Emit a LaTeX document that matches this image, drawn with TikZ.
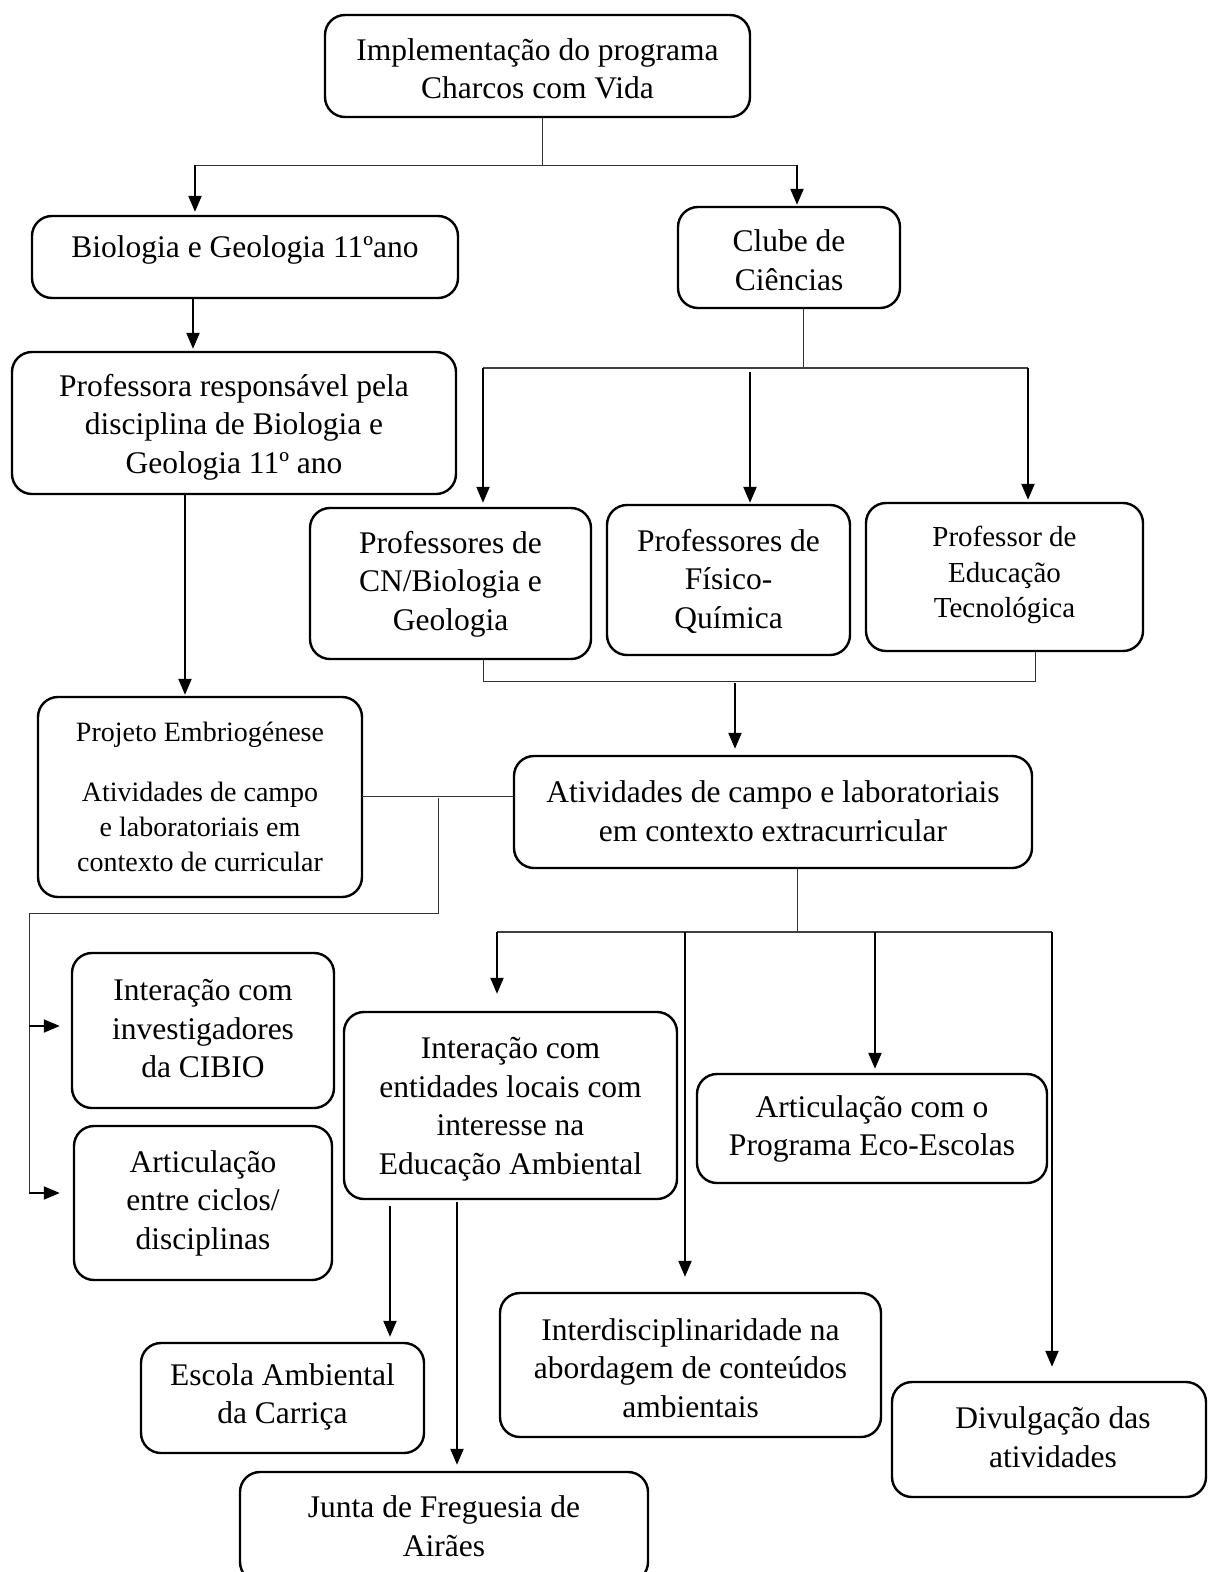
\documentclass[tikz,border=0pt]{standalone}
\usepackage{fontspec}
\setmainfont{Liberation Serif}
\usetikzlibrary{arrows.meta}
\begin{document}
\begin{tikzpicture}[x=1pt,y=-1pt,
  box/.style={draw, line width=2.4pt, rounded corners=20pt, inner sep=0pt},
  txt/.style={align=center, inner sep=0pt, font=\fontsize{31.5}{38.5}\selectfont},
  stxt/.style={align=center, inner sep=0pt, font=\fontsize{29}{35.5}\selectfont},
  sstxt/.style={align=center, inner sep=0pt, font=\fontsize{28}{35}\selectfont},
  arr/.style={-{Triangle[length=16pt,width=13pt]}, line width=2.2pt},
  thinl/.style={line width=1pt, draw=black!80},
  midl/.style={line width=1.6pt, draw=black!75}]
\useasboundingbox (0,0) rectangle (1208,1572);
\clip (0,0) rectangle (1208,1572);
\fill[white] (0,0) rectangle (1208,1572);

% boxes
\node[box, minimum width=425pt, minimum height=102pt] (top) at (537.5,66) {};
\node[txt] at (537.5,69) {Implementação do programa\\Charcos com Vida};
\node[box, minimum width=426pt, minimum height=82pt] (bio) at (245,257) {};
\node[txt] at (245,250) {Biologia e Geologia 11ºano};
\node[box, minimum width=222pt, minimum height=101pt] (clube) at (789,257.5) {};
\node[txt] at (789,260) {Clube de\\Ciências};
\node[box, minimum width=444pt, minimum height=142pt] (prof) at (234,423) {};
\node[txt] at (234,427) {Professora responsável pela\\disciplina de Biologia e\\Geologia 11º ano};
\node[box, minimum width=281pt, minimum height=151pt] (cn) at (450.5,583.5) {};
\node[txt] at (450.5,584) {Professores de\\CN/Biologia e\\Geologia};
\node[box, minimum width=243pt, minimum height=150pt] (fq) at (728.5,580) {};
\node[txt] at (728.5,581) {Professores de\\Físico-\\Química};
\node[box, minimum width=277pt, minimum height=148pt] (et) at (1004.5,577) {};
\node[stxt] at (1004.5,575) {Professor de\\Educação\\Tecnológica};
\node[box, minimum width=324pt, minimum height=200pt] (proj) at (200,797) {};
\node[sstxt] at (200,735) {Projeto Embriogénese};
\node[sstxt] at (200,827) {Atividades de campo\\e laboratoriais em\\contexto de curricular};
\node[box, minimum width=518pt, minimum height=112pt] (ativ) at (773,812) {};
\node[txt] at (773,811) {Atividades de campo e laboratoriais\\em contexto extracurricular};
\node[box, minimum width=262pt, minimum height=155pt] (cibio) at (203,1030.5) {};
\node[txt] at (203,1029) {Interação com\\investigadores\\da CIBIO};
\node[box, minimum width=258pt, minimum height=154pt] (artic) at (203,1203) {};
\node[txt] at (203,1203) {Articulação\\entre ciclos/\\disciplinas};
\node[box, minimum width=333pt, minimum height=187pt] (ent) at (510.5,1105.5) {};
\node[txt] at (510.5,1109) {Interação com\\entidades locais com\\interesse na\\Educação Ambiental};
\node[box, minimum width=350pt, minimum height=109pt] (eco) at (872,1128.5) {};
\node[txt] at (872,1129) {Articulação com o\\Programa Eco-Escolas};
\node[box, minimum width=283pt, minimum height=110pt] (escola) at (282.5,1398) {};
\node[txt] at (282.5,1397) {Escola Ambiental\\da Carriça};
\node[box, minimum width=381pt, minimum height=144pt] (inter) at (690.5,1365) {};
\node[txt] at (690.5,1368) {Interdisciplinaridade na\\abordagem de conteúdos\\ambientais};
\node[box, minimum width=314pt, minimum height=115pt] (divul) at (1049,1439.5) {};
\node[txt] at (1053,1437) {Divulgação das\\atividades};
\node[box, minimum width=408pt, minimum height=110pt] (junta) at (444,1527) {};
\node[txt] at (444,1526) {Junta de Freguesia de\\Airães};

% top split
\coordinate (h1l) at (195,165);
\coordinate (h1r) at (797,165);
\draw[thinl] ([xshift=4.5pt]top.south) -- ([xshift=4.5pt]top.south |- h1l);
\draw[thinl] (h1l) -- (h1r);
\draw[arr, shorten >=3pt] (h1l) -- (h1l |- bio.north);
\draw[arr, shorten >=1pt] (h1r) -- (h1r |- clube.north);

% bio -> prof
\draw[arr, shorten >=2pt] ([xshift=-52pt]bio.south) -- ([xshift=-52pt]bio.south |- prof.north);

% clube split
\coordinate (h2l) at (483,368);
\coordinate (h2m) at (750,372);
\coordinate (h2r) at (1028,368);
\draw[thinl] ([xshift=14pt]clube.south) -- ([xshift=14pt]clube.south |- h2l);
\draw[midl] (h2l) -- (h2r);
\draw[arr, shorten >=4pt] (h2l) -- (h2l |- cn.north);
\draw[arr, shorten >=1pt] (h2m) -- (h2m |- fq.north);
\draw[arr, shorten >=2pt] (h2r) -- (h2r |- et.north);

% join to ativ
\coordinate (j1) at (483,681);
\coordinate (j2) at (1035,681);
\coordinate (j3) at (735,683);
\draw[thinl] (cn.south -| j1) -- (j1) -- (j2) -- (et.south -| j2);
\draw[arr, shorten >=6pt] (j3) -- (j3 |- ativ.north);

% prof -> proj
\draw[arr, shorten >=1pt] ([xshift=-49pt]prof.south) -- ([xshift=-49pt]prof.south |- proj.north);

% proj -- ativ and left branch
\coordinate (pa) at (362,796);
\draw[thinl] (pa) -- (pa -| ativ.west);
\coordinate (b1) at (438,798);
\coordinate (b2) at (438,913);
\coordinate (b3) at (29,913);
\coordinate (b4) at (29,1026);
\coordinate (b5) at (29,1193);
\draw[thinl] (b1) -- (b2) -- (b3) -- (b5);
\draw[arr, line width=1.8pt, shorten >=11pt] (b4) -- (b4 -| cibio.west);
\draw[arr, line width=1.8pt, shorten >=13pt] (b5) -- (b5 -| artic.west);

% ativ split
\coordinate (h3l) at (497,932);
\coordinate (h3a) at (685,932);
\coordinate (h3b) at (875,932);
\coordinate (h3r) at (1052,932);
\draw[thinl] ([xshift=24pt]ativ.south) -- ([xshift=24pt]ativ.south |- h3l);
\draw[midl] (h3l) -- (h3r);
\draw[arr, shorten >=17pt] (h3l) -- (h3l |- ent.north);
\draw[arr, shorten >=15pt] (h3a) -- (h3a |- inter.north);
\draw[arr, shorten >=4pt] (h3b) -- (h3b |- eco.north);
\draw[arr, shorten >=14pt] (h3r) -- (h3r |- divul.north);

% ent -> escola, junta
\coordinate (e1) at (390,1206);
\coordinate (e2) at (457,1202);
\draw[arr, shorten >=5pt] (e1) -- (e1 |- escola.north);
\draw[arr, shorten >=6pt] (e2) -- (e2 |- junta.north);
\end{tikzpicture}
\end{document}
